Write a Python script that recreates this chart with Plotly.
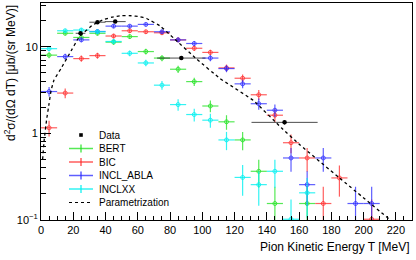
import plotly.graph_objects as go

# Bin centres (MeV) for model predictions
T_bins = [5, 15, 25, 35, 45, 55, 65, 75, 85, 95, 105, 115, 125, 135, 145, 155, 165, 175, 185, 195, 205]

bert = [8.0, 14.3, 12.8, 14.3, 11.3, 13.1, 8.8, 7.4, 5.5, 3.96, 2.07, 1.36, 0.84, 0.365, 0.155, None, 0.155, None, None, None, None]
bert_err = [0.62, 0.83, 0.79, 0.83, 0.74, 0.80, 0.65, 0.60, 0.52, 0.44, 0.32, 0.26, 0.20, 0.13, 0.087, None, 0.087, None, None, None, None]

bic = [1.16, 2.92, 7.3, 7.9, 13.3, 15.3, 14.9, 14.5, 12.0, 9.6, 8.6, 5.7, 4.33, 2.79, 1.62, 0.78, 0.52, 0.155, 0.306, None, 0.102]
bic_err = [0.24, 0.38, 0.60, 0.62, 0.80, 0.86, 0.85, 0.84, 0.76, 0.68, 0.65, 0.53, 0.46, 0.37, 0.28, 0.19, 0.16, 0.087, 0.12, None, 0.07]

incl_abla = [3.04, 7.7, 12.0, 15.0, 17.3, 17.3, 18.1, 14.9, 12.0, 10.9, 7.4, 5.6, 3.73, 2.2, 1.85, 0.52, 0.256, 0.52, None, 0.155, 0.155]
incl_abla_err = [0.38, 0.61, 0.76, 0.85, 0.92, 0.92, 0.94, 0.85, 0.76, 0.73, 0.60, 0.52, 0.42, 0.33, 0.30, 0.16, 0.11, 0.16, None, 0.087, 0.087]

inclxx = [9.5, 15.3, 15.6, 14.9, 11.5, 8.4, 6.5, 3.6, 2.15, 1.65, 1.42, 0.84, 0.31, 0.256, 0.365, 0.102, 0.206, None, None, None, None]
inclxx_err = [0.68, 0.86, 0.87, 0.85, 0.75, 0.64, 0.56, 0.42, 0.32, 0.28, 0.26, 0.20, 0.12, 0.11, 0.13, 0.07, 0.10, None, None, None, None]

# Experimental data
data_T = [24.5, 35, 46, 87, 151]
data_v = [14.3, 19.2, 19.5, 7.4, 1.34]
data_xerr = [3, 5, 6.5, 15, 20.5]
data_yerr = [0.5, 0.6, 0.6, 0.3, 0.08]

# Parametrization curve
param_T = [1, 2, 3.5, 5, 6.2, 8, 12.4, 17.5, 23.7, 32, 38, 44, 50, 56, 61, 65.5, 74, 82, 96.5, 111, 131.6, 149, 160.6, 185, 216]
param_v = [0.5, 0.85, 1.45, 2.2, 3.1, 4.1, 5.6, 8.2, 13.0, 17.8, 20.3, 22.0, 22.8, 22.8, 22.3, 21.2, 17.3, 12.7, 7.2, 4.3, 2.4, 1.16, 0.735, 0.306, 0.102]

series = [
    ("BERT", bert, bert_err, "rgba(30,225,30,0.75)"),
    ("BIC", bic, bic_err, "rgba(255,40,40,0.75)"),
    ("INCL_ABLA", incl_abla, incl_abla_err, "rgba(40,40,255,0.75)"),
    ("INCLXX", inclxx, inclxx_err, "rgba(0,240,240,0.8)"),
]

fig = go.Figure()

for name, vals, errs, col in series:
    xs = [t for t, v in zip(T_bins, vals) if v is not None]
    ys = [v for v in vals if v is not None]
    es = [e for v, e in zip(vals, errs) if v is not None]
    fig.add_trace(go.Scatter(
        x=xs, y=ys, mode="markers", showlegend=False, name=name,
        marker=dict(symbol="circle-open", size=4, color=col, line=dict(width=1, color=col)),
        error_x=dict(type="data", array=[5] * len(xs), color=col, thickness=1.2, width=0),
        error_y=dict(type="data", array=es, color=col, thickness=1.2, width=0),
    ))

fig.add_trace(go.Scatter(
    x=param_T, y=param_v, mode="lines", showlegend=False, name="Parametrization",
    line=dict(color="black", width=1.3, dash="dot", shape="spline", smoothing=0.3),
))

fig.add_trace(go.Scatter(
    x=data_T, y=data_v, mode="markers", showlegend=False, name="Data",
    marker=dict(symbol="circle", size=4.5, color="black"),
    error_x=dict(type="data", array=data_xerr, color="rgba(0,0,0,0.7)", thickness=1, width=0),
    error_y=dict(type="data", array=data_yerr, color="rgba(0,0,0,0.7)", thickness=1, width=0),
))

# Manual legend (ROOT-like compact spacing)
L, R, T, B = 41, 412, 3, 220
W, H = R - L, B - T
def px(x):
    return (x - L) / W
def py(y):
    return (B - y) / H

legend_names = ["Data"] + [s[0] for s in series] + ["Parametrization"]
row_y = [135, 148.5, 162, 175.5, 189, 202.5]
shapes = []
annotations = []
sym_l, sym_r, sym_c = 69, 93, 81
for i, name in enumerate(legend_names):
    yy = row_y[i]
    if name == "Data":
        shapes.append(dict(type="rect", xref="paper", yref="paper",
                           x0=px(sym_c - 1.8), x1=px(sym_c + 1.8), y0=py(yy + 1.8), y1=py(yy - 1.8),
                           fillcolor="black", line=dict(width=0)))
    elif name == "Parametrization":
        shapes.append(dict(type="line", xref="paper", yref="paper",
                           x0=px(sym_l), x1=px(sym_r), y0=py(yy), y1=py(yy),
                           line=dict(color="black", width=1.2, dash="dot")))
    else:
        col = series[i - 1][3]
        shapes.append(dict(type="line", xref="paper", yref="paper",
                           x0=px(sym_l), x1=px(sym_r), y0=py(yy), y1=py(yy),
                           line=dict(color=col, width=1.5)))
        shapes.append(dict(type="line", xref="paper", yref="paper",
                           x0=px(sym_c), x1=px(sym_c), y0=py(yy - 4), y1=py(yy + 4),
                           line=dict(color=col, width=1.5)))
    annotations.append(dict(text=name, xref="paper", yref="paper", x=px(97), y=py(yy),
                            xanchor="left", yanchor="middle", showarrow=False,
                            font=dict(size=10)))

annotations.append(dict(text="Pion Kinetic Energy T [MeV]", xref="paper", yref="paper",
                        x=1.0, y=py(247), xanchor="right", yanchor="middle",
                        showarrow=False, font=dict(size=12)))
annotations.append(dict(text="d<sup>2</sup>σ/(dΩ dT) [μb/(sr MeV)]", xref="paper", yref="paper",
                        x=px(10), y=1.0, xanchor="center", yanchor="top", textangle=-90,
                        showarrow=False, font=dict(size=12)))

minor_y = [0.2, 0.3, 0.4, 0.5, 0.6, 0.7, 0.8, 0.9, 2, 3, 4, 5, 6, 7, 8, 9, 20, 30]

fig.update_layout(
    width=416, height=260,
    margin=dict(l=41, r=4, t=3, b=40),
    paper_bgcolor="white", plot_bgcolor="white",
    showlegend=False,
    font=dict(family="Liberation Sans, Arial, sans-serif", size=11, color="black"),
    xaxis=dict(range=[0, 230], dtick=20, tick0=0, ticks="inside", ticklen=8, tickwidth=1,
               tickcolor="black", showline=True, linecolor="black", linewidth=1, mirror=True,
               showgrid=False, zeroline=False, tickfont=dict(size=11), automargin=False,
               minor=dict(dtick=5, tick0=0, ticks="inside", ticklen=4, tickcolor="black", showgrid=False)),
    yaxis=dict(type="log", range=[-1, 1.505], tickvals=[0.1, 1, 10],
               ticktext=["10<sup>−1</sup>", "1", "10"], ticks="inside", ticklen=10, tickwidth=1,
               tickcolor="black", showline=True, linecolor="black", linewidth=1, mirror=True,
               showgrid=False, zeroline=False, tickfont=dict(size=11), automargin=False,
               minor=dict(tickvals=minor_y, ticks="inside", ticklen=5, tickcolor="black", showgrid=False)),
    shapes=shapes,
    annotations=annotations,
)

fig.write_html("out.html", config={"displayModeBar": False},
               post_script="document.body.style.margin='0';document.body.style.padding='0';document.body.style.overflow='hidden';")
